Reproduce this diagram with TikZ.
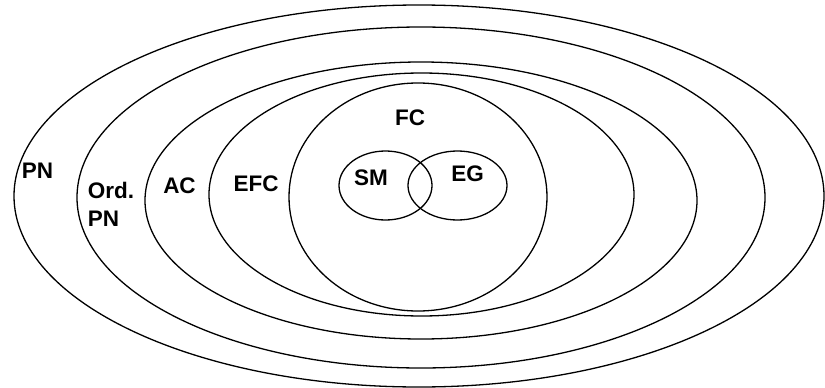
\documentclass[tikz,border=0pt]{standalone}
\usepackage{fontspec}
\setmainfont{Liberation Sans}
\usepackage{tikz}
\usetikzlibrary{shapes,positioning}
\tikzset{
    setbox/.style={
        ellipse,
        draw=black,
        line width=1.3pt,
        inner sep=0pt
    },
    setlabel/.style={
        inner sep=0pt,
        font=\fontsize{22.5}{28}\selectfont\bfseries
    }
}

\begin{document}
\begin{tikzpicture}[x=1pt, y=-1pt]
\useasboundingbox (0,0) rectangle (825,388);

% PN
\node[setbox, minimum width=810pt, minimum height=382pt] (pn) at (419,196) {};
\node[setlabel] (pn-label) at (37.5,171) {PN};

% Ord. PN
\node[setbox, minimum width=688pt, minimum height=341pt] (ordpn) at (421,197.5) {};
\node[setlabel, align=left] (ordpn-label) at (111,204) {Ord.\\PN};

% AC
\node[setbox, minimum width=552pt, minimum height=277pt] (ac) at (421,200.5) {};
\node[setlabel] (ac-label) at (179.5,185.5) {AC};

% EFC
\node[setbox, minimum width=425pt, minimum height=243pt] (efc) at (421.5,194.5) {};
\node[setlabel] (efc-label) at (256,184) {EFC};

% FC
\node[setbox, minimum width=258pt, minimum height=228pt] (fc) at (418,197) {};
\node[setlabel] (fc-label) at (410,118) {FC};

% SM and EG
\node[setbox, minimum width=93pt, minimum height=69pt] (sm) at (385.5,185.5) {};
\node[setlabel] (sm-label) at (371,178) {SM};
\node[setbox, minimum width=99pt, minimum height=69pt] (eg) at (457.5,185.5) {};
\node[setlabel] (eg-label) at (467.5,173.5) {EG};
\end{tikzpicture}
\end{document}
